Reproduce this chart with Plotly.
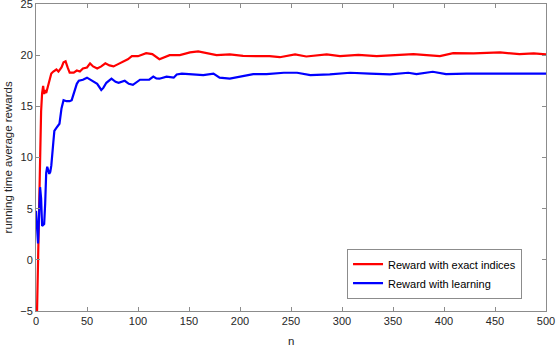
import plotly.graph_objects as go

# running time average rewards
n_exact = [0, 2, 3, 4, 5, 6, 7, 8, 9, 10, 11, 13, 15, 17, 20, 22, 25, 27, 29, 31,
           33, 37, 40, 43, 46, 50, 53, 56, 60, 64, 68, 72, 76, 80, 86, 90, 94, 100,
           108, 114, 121, 131, 141, 151, 159, 167, 177, 190, 203, 216, 229, 239,
           254, 265, 285, 298, 316, 334, 350, 365, 370, 383, 396, 409, 429, 455,
           474, 488, 500]
r_exact = [-10, 1, 6, 10, 14.5, 16.3, 17.0, 16.2, 16.6, 16.3, 16.7, 17.5, 18.2,
           18.4, 18.6, 18.4, 18.8, 19.3, 19.4, 18.8, 18.3, 18.3, 18.5, 18.4, 18.7,
           18.8, 19.2, 18.9, 18.7, 18.9, 19.2, 19.0, 18.9, 19.1, 19.4, 19.6, 19.9,
           19.9, 20.2, 20.1, 19.6, 20.0, 20.0, 20.27, 20.37, 20.18, 20.0, 20.08,
           19.94, 19.9, 19.9, 19.8, 20.08, 19.87, 20.08, 19.9, 20.03, 19.9, 19.97,
           20.03, 20.1, 20.0, 19.9, 20.2, 20.17, 20.27, 20.1, 20.17, 20.07]

n_learn = [0, 2, 4, 5, 6, 7, 8, 9, 10, 11, 12, 13, 14, 15, 17, 18, 20, 22, 23, 25,
           27, 30, 33, 35, 37, 40, 42, 46, 50, 53, 57, 60, 64, 66, 69, 74, 78, 81,
           87, 91, 95, 98, 102, 108, 111, 115, 118, 121, 128, 135, 138, 143, 151,
           164, 174, 180, 190, 200, 213, 226, 243, 256, 269, 288, 308, 327, 347,
           365, 373, 389, 402, 422, 442, 461, 481, 500]
r_learn = [4.8, 1.6, 7.1, 6.0, 3.3, 3.4, 3.5, 5.5, 8.5, 9.1, 8.6, 8.4, 8.6, 9.2,
           11.5, 12.6, 12.9, 13.1, 13.3, 14.8, 15.6, 15.5, 15.5, 15.6, 16.2, 17.2,
           17.5, 17.6, 17.8, 17.6, 17.4, 17.2, 16.6, 16.8, 17.3, 17.7, 17.4, 17.3,
           17.5, 17.2, 17.1, 17.3, 17.6, 17.6, 17.6, 17.9, 17.73, 17.7, 17.9, 17.8,
           18.12, 18.2, 18.15, 18.05, 18.2, 17.8, 17.7, 17.9, 18.15, 18.15, 18.28,
           18.28, 18.05, 18.12, 18.28, 18.2, 18.12, 18.28, 18.15, 18.38, 18.15,
           18.2, 18.2, 18.27, 18.2, 18.2]

axis_grey = "#8c8c8c"
text_grey = "#262626"
font_family = "Liberation Sans, Arial"

fig = go.Figure()
fig.add_trace(go.Scatter(x=n_exact, y=r_exact, mode="lines",
                         line=dict(color="#ff0000", width=2.2),
                         name="Reward with exact indices"))
fig.add_trace(go.Scatter(x=n_learn, y=r_learn, mode="lines",
                         line=dict(color="#0000ff", width=2.2),
                         name="Reward with learning"))

axis_common = dict(showgrid=False, zeroline=False, showline=True, linecolor=axis_grey,
                   linewidth=1, mirror="ticks", ticks="inside", ticklen=4,
                   tickcolor=axis_grey, automargin=False, ticklabeloverflow="allow",
                   tickfont=dict(family=font_family, size=11, color=text_grey))

fig.update_xaxes(range=[0, 500], dtick=50, **axis_common)
fig.update_yaxes(range=[-5, 25], dtick=5, **axis_common)

# axis titles placed as annotations so they sit where the reference has them
fig.add_annotation(text="n", xref="paper", yref="paper", x=0.5, y=-0.071,
                   xanchor="center", yanchor="top", showarrow=False,
                   font=dict(family=font_family, size=11.5, color=text_grey))
fig.add_annotation(text="running time average rewards", xref="paper", yref="paper",
                   x=-0.055, y=0.5, xanchor="center", yanchor="middle", textangle=-90,
                   showarrow=False, font=dict(family=font_family, size=11.5, color=text_grey))

fig.update_layout(
    width=558, height=348,
    margin=dict(l=36, r=12, t=4, b=37),
    paper_bgcolor="white", plot_bgcolor="white",
    legend=dict(x=0.953, y=0.04, xanchor="right", yanchor="bottom",
                bordercolor=axis_grey, borderwidth=1, bgcolor="white",
                font=dict(family=font_family, size=11, color="black"),
                tracegroupgap=0),
)

# drop the browser's default 8px body margin so the figure fills the window
fig.write_html("out.html", config={"displayModeBar": False},
               post_script="document.body.style.margin = '0px';")
